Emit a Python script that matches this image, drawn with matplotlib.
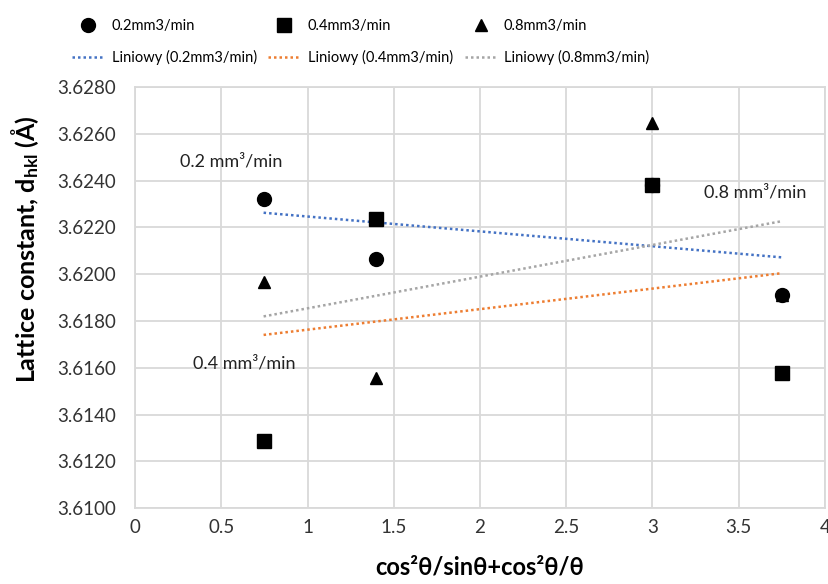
import numpy as np
import matplotlib
matplotlib.use("Agg")
import matplotlib.pyplot as plt

plt.rcParams['font.family'] = ['Lato', 'DejaVu Sans']
plt.rcParams['mathtext.fontset'] = 'custom'
plt.rcParams['mathtext.rm'] = 'Lato'
plt.rcParams['mathtext.bf'] = 'Lato:bold'

x = [0.745, 1.395, 3.0, 3.75]
y_02 = [3.6232, 3.62065, 3.6238, 3.6191]
y_04 = [3.61287, 3.62235, 3.6238, 3.61578]
y_08 = [3.61965, 3.61555, 3.62648, 3.6191]
labels = ["0.2mm3/min", "0.4mm3/min", "0.8mm3/min"]
trend_labels = ["Liniowy (0.2mm3/min)", "Liniowy (0.4mm3/min)", "Liniowy (0.8mm3/min)"]
annotations = [("0.2 mm³/min", 0.26, 3.6248), ("0.4 mm³/min", 0.335, 3.6162), ("0.8 mm³/min", 3.3, 3.6235)]
yticks = np.arange(3.6100, 3.62801, 0.002)
xticks = np.arange(0, 4.01, 0.5)

fig = plt.figure(figsize=(8.29, 5.84), dpi=100)
ax = fig.add_axes([0.163, 0.130, 0.832, 0.721])

series = [y_02, y_04, y_08]
markers = ['o', 's', '^']
msizes = [10, 9.5, 9]
colors = ['#4472C4', '#ED7D31', '#A5A5A5']
handles = []
xa = np.array(x)
for ys, m, ms, c, lab, tl in zip(series, markers, msizes, colors, labels, trend_labels):
    h1, = ax.plot(x, ys, linestyle='none', marker=m, markersize=ms, color='black', label=lab, zorder=4)
    k, b = np.polyfit(xa, np.array(ys), 1)
    xs = np.array([xa.min(), xa.max()])
    h2, = ax.plot(xs, k * xs + b, linestyle=(0, (1, 1.2)), color=c, lw=1.8, label=tl, zorder=3)
    handles += [h1, h2]

for txt, tx, ty in annotations:
    ax.text(tx, ty, txt, fontsize=13, color='#222222', va='center', ha='left')

ax.set_xlim(0, 4)
ax.set_ylim(3.6100, 3.6280)
ax.set_xticks(xticks)
ax.set_xticklabels([f"{t:g}" for t in xticks])
ax.set_yticks(yticks)
ax.set_yticklabels([f"{t:.4f}" for t in yticks])
ax.tick_params(length=0, labelsize=13.5, colors='#333333')
ax.tick_params(axis='y', pad=14)
ax.tick_params(axis='x', pad=8)
ax.grid(True, color='#d9d9d9', lw=1.3)
ax.set_axisbelow(True)
for s in ax.spines.values():
    s.set_color('#d9d9d9')
    s.set_linewidth(1.3)

ax.set_ylabel(r"Lattice constant, $\mathbf{d_{hkl}}$ (Å)", fontsize=18, fontweight='bold')
ax.yaxis.set_label_coords(-0.137, 0.615)
ax.set_xlabel("cos²θ/sinθ+cos²θ/θ", fontsize=17, fontweight='bold', labelpad=14)

fig.legend(handles=handles, loc='upper center', bbox_to_anchor=(0.435, 0.99), ncol=3,
           frameon=False, fontsize=10.5,
           handlelength=2.2, columnspacing=0.8, handletextpad=0.5, labelspacing=1.15)

fig.savefig("out.png", dpi=100)
